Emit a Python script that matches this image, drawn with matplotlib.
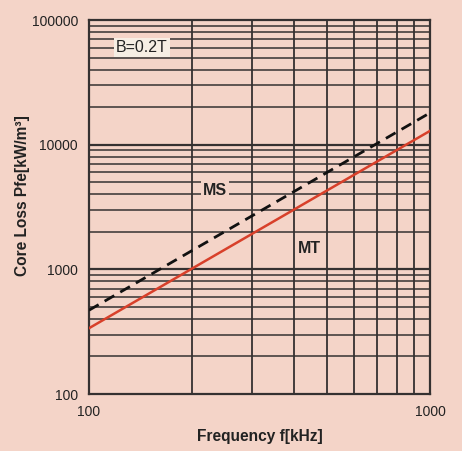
import numpy as np
import matplotlib
matplotlib.use("Agg")
import matplotlib.pyplot as plt
from matplotlib.ticker import FixedLocator, NullFormatter

freq = [100, 1000]
ms_loss = [470, 18000]
mt_loss = [337, 12900]

bg = '#f4d4c8'
grid_c = '#353131'

plt.rcParams['font.family'] = ['Liberation Sans', 'DejaVu Sans']

fig = plt.figure(figsize=(4.62, 4.51), dpi=100, facecolor=bg)
ax = fig.add_axes([89/462, 57/451, 341/462, 374/451])
ax.set_facecolor(bg)
ax.set_xscale('log')
ax.set_yscale('log')
ax.set_xlim(100, 1000)
ax.set_ylim(100, 100000)

# grid on every minor step
xminor = [200, 300, 400, 500, 600, 700, 800, 900]
yminor = [m * 10**d for d in range(2, 5) for m in range(2, 10)]
for xv in xminor:
    ax.axvline(xv, color=grid_c, lw=1.3, zorder=1)
for yv in yminor:
    ax.axhline(yv, color=grid_c, lw=1.1, zorder=1)
for yv in [1000, 10000]:
    ax.axhline(yv, color=grid_c, lw=1.6, zorder=1)

ax.plot(freq, ms_loss, color='#111111', lw=2, ls=(0, (4, 2.5)), zorder=3)
ax.plot(freq, mt_loss, color='#d8402a', lw=1.8, zorder=3)

ax.text(143, 60000, 'B=0.2T', fontsize=11.5, ha='center', va='center', color='#222222',
        bbox=dict(facecolor='#f6eee4', edgecolor='none', pad=1.5), zorder=4)
ax.text(234, 4290, 'MS', fontsize=11.5, fontweight='bold', ha='center', va='center', color='#222222',
        bbox=dict(facecolor=bg, edgecolor='none', pad=1.5), zorder=4)
ax.text(444, 1472, 'MT', fontsize=11.5, fontweight='bold', ha='center', va='center', color='#222222', zorder=4)

ax.xaxis.set_major_locator(FixedLocator([100, 1000]))
ax.yaxis.set_major_locator(FixedLocator([100, 1000, 10000, 100000]))
ax.xaxis.set_minor_formatter(NullFormatter())
ax.yaxis.set_minor_formatter(NullFormatter())
ax.set_xticklabels(['100', '1000'])
ax.set_yticklabels(['100', '1000', '10000', '100000'])
ax.tick_params(which='both', length=0, labelsize=10, colors='#222222')
ax.tick_params(axis='x', pad=8)
ax.tick_params(axis='y', pad=8)

for s in ax.spines.values():
    s.set_color(grid_c)
    s.set_linewidth(1.6)

ax.set_xlabel('Frequency f[kHz]', fontsize=11.2, fontweight='bold', color='#222222', labelpad=7)
ax.set_ylabel('Core Loss Pfe[kW/m³]', fontsize=11.2, fontweight='bold', color='#222222')
ax.yaxis.set_label_coords(-0.173, 0.53)

fig.savefig('out.png', dpi=100, facecolor=bg)
